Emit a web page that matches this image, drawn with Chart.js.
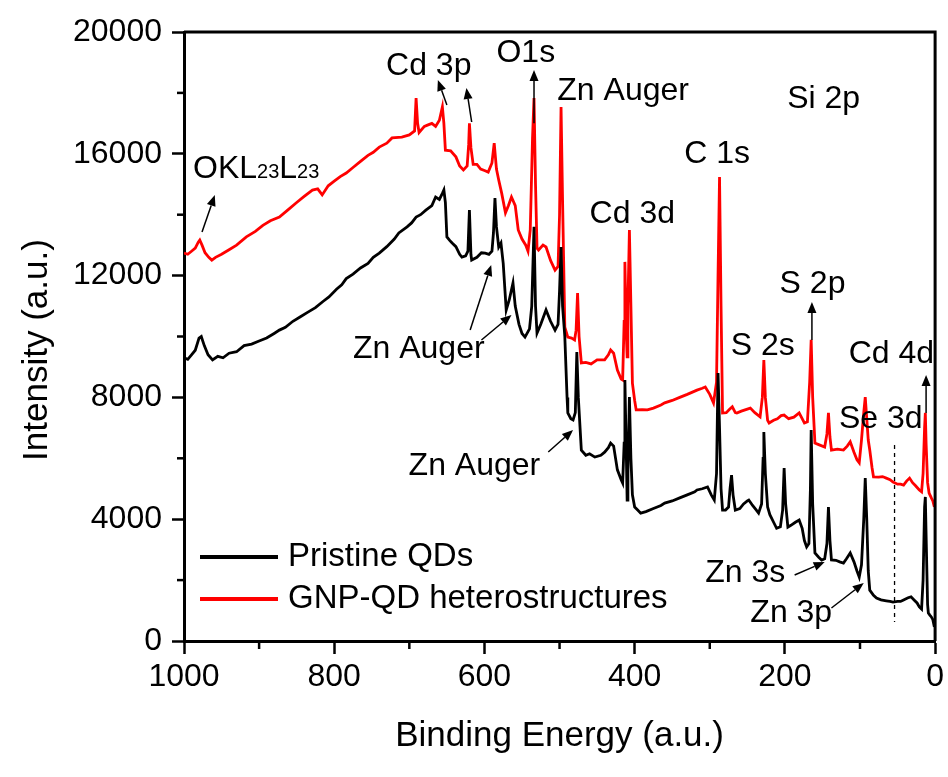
<!DOCTYPE html>
<html>
<head>
<meta charset="utf-8">
<title>XPS survey spectra</title>
<script src="https://cdn.jsdelivr.net/npm/chart.js@4.4.1/dist/chart.umd.min.js"></script>
<style>
  html, body { margin: 0; padding: 0; background: #fff; }
  canvas { display: block; }
</style>
</head>
<body>
<canvas id="xpsChart" width="948" height="777"></canvas>
<script>
const FONT = '"Liberation Sans", Arial, Helvetica, sans-serif';

// Pristine QDs (black) - binding energy (eV) / intensity (a.u.)
const pristineEnergy = [
  1000, 995, 990, 985, 980, 977, 973, 968, 962, 955, 948, 940, 930, 920, 910, 900,
  890, 880, 873, 865, 855, 845, 835, 825, 815, 807, 797, 790, 784, 775, 765, 755,
  748, 740, 730, 720, 714, 703, 697, 691, 685, 678, 670, 665, 660, 656, 654, 652,
  650, 646, 643, 638, 633, 630, 625, 622, 620, 618, 617, 610, 604, 599, 594, 590,
  588, 586, 584, 581, 578, 575, 571, 567, 562, 559, 554, 550, 546, 540, 537, 534,
  532, 530, 525, 518, 512, 506, 502, 500, 498, 496, 493, 490, 489, 485, 482, 479,
  477, 475, 471, 465, 460, 453, 445, 440, 435, 432, 428, 423, 418, 416, 414, 413,
  411, 410, 409, 407, 405, 403, 400, 396, 392, 385, 375, 365, 360, 350, 340, 330,
  320, 317, 310, 303, 298, 294, 291, 289, 287, 285, 283, 279, 275, 273, 271, 269,
  266, 260, 255, 250, 248, 243, 238, 235, 231, 229, 228, 226, 223, 220, 215, 211,
  206, 203, 201, 199, 196, 192, 186, 181, 177, 174, 171, 168, 166, 165, 163, 160,
  155, 151, 147, 144, 142, 140, 138, 132, 127, 122, 118, 113, 108, 104, 101, 98,
  95, 93, 91, 89, 87, 82, 78, 72, 65, 60, 56, 50, 46, 42, 36, 32,
  28, 24, 21, 18, 16, 14, 13, 12, 10, 9, 7, 5, 3, 1
];
const pristineIntensity = [
  9300, 9250, 9400, 9550, 9950, 10000, 9700, 9400, 9230, 9350, 9300, 9450, 9500, 9700, 9750, 9850,
  9950, 10100, 10210, 10300, 10500, 10650, 10800, 10950, 11150, 11300, 11550, 11700, 11900, 12050, 12250, 12400,
  12600, 12740, 12950, 13200, 13400, 13600, 13730, 13920, 14000, 14150, 14300, 14580, 14500, 14700, 14810, 14400,
  13270, 13150, 13070, 12950, 12700, 12610, 12650, 12800, 14150, 12700, 12510, 12600, 12750, 12740, 12700, 12800,
  13400, 14550, 13600, 12940, 13070, 12400, 10870, 11200, 11760, 11000, 10400, 10100, 9980, 10250, 11000, 13600,
  11000, 10110, 10400, 10870, 10500, 10210, 10400, 11500, 12940, 11000, 10000, 8000, 7490, 7300, 7260, 7500,
  9490, 8000, 6270, 6100, 6150, 6040, 6100, 6200, 6350, 6500, 6400, 5620, 5300, 5190, 6500, 8570,
  6000, 4630, 5500, 8010, 6000, 4800, 4400, 4300, 4200, 4250, 4350, 4450, 4530, 4600, 4700, 4800,
  4900, 4960, 5000, 5060, 4800, 4630, 5500, 8800, 7000, 5000, 4300, 4300, 4400, 5000, 5450, 4800,
  4300, 4350, 4500, 4600, 4630, 4450, 4300, 4200, 4500, 6000, 6860, 5500, 4400, 4150, 3900, 3700,
  3750, 4300, 5680, 4500, 3740, 3800, 3900, 3970, 3700, 3300, 3090, 3200, 5000, 6930, 4500, 2890,
  2750, 2660, 2700, 3200, 4400, 3300, 2660, 2650, 2600, 2560, 2700, 2890, 2600, 2300, 2100, 2500,
  4000, 5350, 4000, 2300, 1670, 1500, 1410, 1350, 1320, 1300, 1280, 1300, 1300, 1350, 1420, 1450,
  1350, 1250, 1120, 1050, 2000, 4400, 4730, 3500, 1200, 920, 850, 790, 700, 460
];

// GNP-QD heterostructures (red)
const gnpEnergy = [
  1000, 995, 990, 985, 981, 979, 976, 972, 967, 963, 958, 950, 940, 930, 917, 905,
  895, 885, 873, 862, 850, 840, 829, 822, 816, 808, 800, 792, 784, 775, 765, 755,
  748, 740, 730, 723, 710, 700, 693, 691, 689, 687, 680, 675, 670, 665, 660, 656,
  654, 652, 645, 638, 633, 628, 623, 621, 620, 618, 615, 610, 605, 600, 595, 590,
  587, 584, 581, 577, 572, 568, 564, 559, 555, 550, 545, 542, 539, 536, 534, 532,
  530, 528, 522, 518, 512, 506, 502, 500, 498, 496, 493, 489, 484, 480, 478, 476,
  474, 471, 465, 458, 450, 440, 435, 432, 428, 423, 418, 416, 414, 413, 411, 410,
  409, 407, 405, 403, 400, 398, 390, 383, 375, 365, 360, 350, 340, 330, 317, 310,
  306, 300, 295, 291, 289, 287, 285, 283, 278, 274, 270, 266, 264, 258, 252, 246,
  240, 233, 230, 228, 226, 223, 221, 215, 210, 205, 201, 195, 188, 181, 177, 174,
  170, 167, 165, 163, 160, 155, 147, 144, 142, 140, 138, 130, 122, 117, 113, 108,
  104, 101, 98, 95, 93, 91, 89, 87, 84, 82, 75, 70, 65, 60, 56, 50,
  46, 42, 38, 34, 30, 26, 21, 18, 16, 14, 13, 12, 10, 8, 5, 3, 1
];
const gnpIntensity = [
  12740, 12700, 12800, 12900, 13100, 13170, 13000, 12750, 12600, 12510, 12600, 12700, 12850, 13000, 13270, 13450,
  13650, 13800, 13920, 14150, 14400, 14600, 14810, 14850, 14650, 14950, 15100, 15250, 15370, 15550, 15750, 15950,
  16050, 16220, 16350, 16520, 16550, 16620, 16750, 17830, 17000, 16700, 16900, 16950, 17000, 16900, 17100, 17540,
  17000, 16120, 16100, 15900, 15600, 15470, 15600, 16300, 17000, 16200, 15650, 15650, 15500, 15450, 15400, 15700,
  16350, 15500, 15140, 14700, 14060, 14300, 14580, 14300, 13500, 13200, 13000, 12800, 13500, 16500, 17830, 15000,
  12900, 12840, 13000, 12940, 12500, 12180, 12300, 14000, 17540, 14500, 10310, 9980, 9950, 9890, 10200, 11430,
  10000, 9130, 9150, 9100, 9230, 9230, 9400, 9560, 9450, 8900, 8600, 8570, 10500, 12450, 10000, 9330,
  11000, 13500, 11000, 8470, 7900, 7590, 7600, 7590, 7650, 7750, 7820, 7900, 8000, 8100, 8240, 8300,
  8340, 8100, 7820, 8500, 12000, 15240, 11000, 7490, 7500, 7600, 7690, 7500, 7490, 7550, 7600, 7650,
  7500, 7360, 8000, 9230, 8000, 7250, 7160, 7250, 7300, 7400, 7420, 7300, 7350, 7490, 7300, 7160,
  7200, 8500, 9890, 8000, 6500, 6450, 6370, 6800, 7490, 6700, 6270, 6300, 6270, 6400, 6540, 6200,
  5950, 5850, 6600, 7500, 8010, 7300, 6600, 6270, 5700, 5390, 5380, 5400, 5350, 5300, 5220, 5150,
  5150, 5120, 5250, 5350, 5200, 5100, 4960, 4900, 5500, 7000, 7490, 6500, 5200, 4860, 4700, 4600, 4400
];

const seriesLabels = ["Pristine QDs", "GNP-QD heterostructures"];
const xTickValues = [1000, 800, 600, 400, 200, 0];
const xMinorValues = [900, 700, 500, 300, 100];
const yTickValues = [0, 4000, 8000, 12000, 16000, 20000];
const yMinorValues = [2000, 6000, 10000, 14000, 18000];

// Peak labels, anchored in data units (energy, intensity) at the text's left baseline
const peakLabels = [
  { text: "Cd 3p", e: 731, i: 18588 },
  { text: "O1s", e: 584, i: 19015 },
  { text: "Zn Auger", e: 503, i: 17767 },
  { text: "Si 2p", e: 197, i: 17504 },
  { text: "C 1s", e: 334, i: 15698 },
  { text: "Cd 3d", e: 460, i: 13727 },
  { text: "S 2p", e: 207, i: 11429 },
  { text: "S 2s", e: 272, i: 9392 },
  { text: "Cd 4d", e: 115, i: 9130 },
  { text: "Se 3d", e: 128, i: 6995 },
  { text: "Zn Auger", e: 775, i: 9294 },
  { text: "Zn Auger", e: 701, i: 5452 },
  { text: "Zn 3s", e: 306, i: 1938 },
  { text: "Zn 3p", e: 246, i: 624 }
];
// arrows: tail -> head, data units
const peakArrows = [
  [976, 13432, 959, 14647],
  [650, 17603, 662, 18424],
  [617, 17044, 624, 18161],
  [534, 17000, 534, 18752],
  [164, 9885, 164, 11133],
  [12, 7488, 12, 8736],
  [619, 10213, 591, 12348],
  [604, 9885, 564, 10706],
  [515, 6207, 482, 6929],
  [187, 2167, 147, 2594],
  [138, 1084, 95, 1905]
];
const seMarker = { e: 54, from: 6437, to: 624 };

function toPoints(energy, intensity) {
  return energy.map((e, k) => ({ x: e, y: intensity[k] }));
}

function drawArrow(ctx, x1, y1, x2, y2) {
  const ang = Math.atan2(y2 - y1, x2 - x1);
  const len = 11, half = 4.5;
  ctx.beginPath();
  ctx.moveTo(x1, y1);
  ctx.lineTo(x2 - Math.cos(ang) * len, y2 - Math.sin(ang) * len);
  ctx.stroke();
  ctx.beginPath();
  ctx.moveTo(x2, y2);
  ctx.lineTo(x2 - Math.cos(ang) * len - Math.sin(ang) * half, y2 - Math.sin(ang) * len + Math.cos(ang) * half);
  ctx.lineTo(x2 - Math.cos(ang) * len + Math.sin(ang) * half, y2 - Math.sin(ang) * len - Math.cos(ang) * half);
  ctx.closePath();
  ctx.fill();
}

// frame, minor ticks, labels, arrows, legend and y title
const decorations = {
  id: "decorations",
  afterDraw(chart) {
    const { ctx, chartArea: a, scales: { x, y } } = chart;
    ctx.save();
    ctx.strokeStyle = "#000";
    ctx.fillStyle = "#000";

    ctx.lineWidth = 3;
    ctx.beginPath();
    ctx.moveTo(a.left, a.top);
    ctx.lineTo(a.right, a.top);
    ctx.lineTo(a.right, a.bottom);
    ctx.stroke();

    ctx.lineWidth = 2.5;
    xMinorValues.forEach(v => {
      const px = x.getPixelForValue(v);
      ctx.beginPath(); ctx.moveTo(px, a.bottom); ctx.lineTo(px, a.bottom + 8); ctx.stroke();
    });
    yMinorValues.forEach(v => {
      const py = y.getPixelForValue(v);
      ctx.beginPath(); ctx.moveTo(a.left, py); ctx.lineTo(a.left - 7, py); ctx.stroke();
    });

    // Se 3d marker
    ctx.lineWidth = 1.3;
    ctx.setLineDash([4, 4]);
    const sx = x.getPixelForValue(seMarker.e);
    ctx.beginPath();
    ctx.moveTo(sx, y.getPixelForValue(seMarker.from));
    ctx.lineTo(sx, y.getPixelForValue(seMarker.to));
    ctx.stroke();
    ctx.setLineDash([]);

    ctx.lineWidth = 1.5;
    peakArrows.forEach(([e1, i1, e2, i2]) => {
      drawArrow(ctx, x.getPixelForValue(e1), y.getPixelForValue(i1),
                x.getPixelForValue(e2), y.getPixelForValue(i2));
    });

    ctx.textAlign = "left";
    ctx.textBaseline = "alphabetic";
    ctx.font = "32px " + FONT;
    peakLabels.forEach(l => {
      ctx.fillText(l.text, x.getPixelForValue(l.e), y.getPixelForValue(l.i));
    });

    // OKL23L23 with small subscripts
    let ox = x.getPixelForValue(988);
    const oy = y.getPixelForValue(15205);
    [["OKL", 32], ["23", 20], ["L", 32], ["23", 20]].forEach(([t, s]) => {
      ctx.font = s + "px " + FONT;
      ctx.fillText(t, ox, oy);
      ox += ctx.measureText(t).width;
    });

    // legend
    ctx.font = "33px " + FONT;
    ctx.textBaseline = "middle";
    chart.data.datasets.forEach((ds, k) => {
      const ly = 557 + k * 42;
      ctx.strokeStyle = ds.borderColor;
      ctx.lineWidth = 4;
      ctx.beginPath(); ctx.moveTo(200, ly); ctx.lineTo(278, ly); ctx.stroke();
      ctx.fillStyle = "#000";
      ctx.fillText(ds.label, 288, ly);
    });

    // y axis title
    ctx.translate(37, 350);
    ctx.rotate(-Math.PI / 2);
    ctx.textAlign = "center";
    ctx.font = "35px " + FONT;
    ctx.fillText("Intensity (a.u.)", 0, 0);
    ctx.restore();
  }
};

const ctx = document.getElementById("xpsChart").getContext("2d");
const chart = new Chart(ctx, {
  type: "line",
  data: {
    datasets: [
      {
        label: seriesLabels[0],
        data: toPoints(pristineEnergy, pristineIntensity),
        borderColor: "#000000",
        borderWidth: 2.8,
        pointRadius: 0,
        tension: 0
      },
      {
        label: seriesLabels[1],
        data: toPoints(gnpEnergy, gnpIntensity),
        borderColor: "#ff0000",
        borderWidth: 2.8,
        pointRadius: 0,
        tension: 0
      }
    ]
  },
  options: {
    responsive: false,
    animation: false,
    layout: { padding: { top: 32, right: 9, left: 0, bottom: 0 } },
    plugins: { legend: { display: false }, tooltip: { enabled: false } },
    scales: {
      x: {
        type: "linear",
        reverse: true,
        min: 0,
        max: 1000,
        afterBuildTicks: s => { s.ticks = xTickValues.map(v => ({ value: v })); },
        afterFit: s => { s.height = 136; },
        ticks: {
          color: "#000", font: { family: FONT, size: 32 }, padding: 4, maxRotation: 0, autoSkip: false,
          callback: v => String(v)
        },
        grid: { drawOnChartArea: false, tickLength: 13, tickWidth: 2.5, tickColor: "#000" },
        border: { display: true, width: 3, color: "#000" },
        title: {
          display: true,
          text: "Binding Energy (a.u.)",
          color: "#000",
          font: { family: FONT, size: 35 },
          padding: { top: 0, bottom: 20 }
        }
      },
      y: {
        min: 0,
        max: 20000,
        afterBuildTicks: s => { s.ticks = yTickValues.map(v => ({ value: v })); },
        afterFit: s => { s.width = 184; },
        ticks: {
          color: "#000", font: { family: FONT, size: 32 }, padding: 10, autoSkip: false,
          callback: v => String(v)
        },
        grid: { drawOnChartArea: false, tickLength: 12, tickWidth: 2.5, tickColor: "#000" },
        border: { display: true, width: 3, color: "#000" }
      }
    }
  },
  plugins: [decorations]
});
</script>
</body>
</html>
